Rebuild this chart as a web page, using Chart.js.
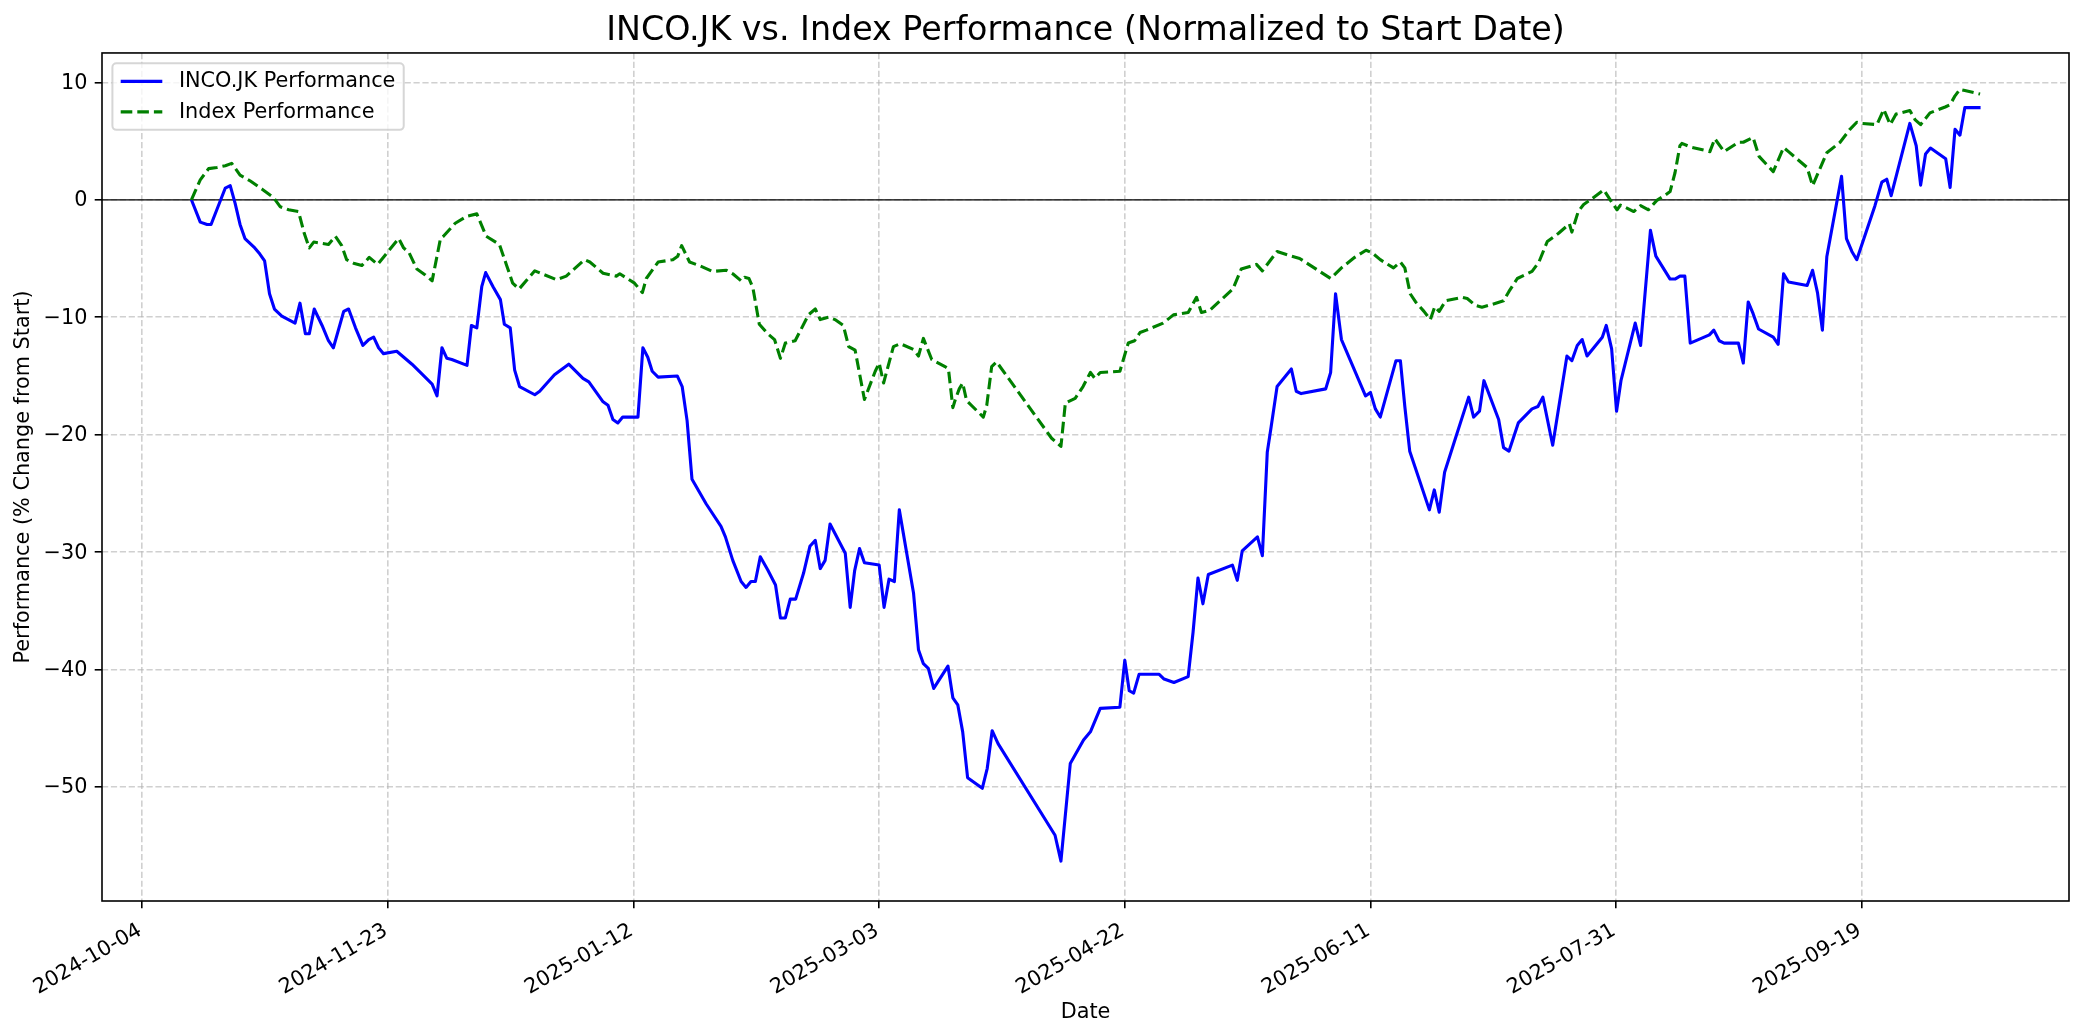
<!DOCTYPE html>
<html>
<head>
<meta charset="utf-8">
<title>INCO.JK vs. Index Performance</title>
<script src="https://cdn.jsdelivr.net/npm/chart.js@4.4.1/dist/chart.umd.min.js"></script>
<style>
  html, body { margin: 0; padding: 0; background: #fff; }
  canvas { display: block; }
</style>
</head>
<body>
<canvas id="perf-chart" width="2084" height="1035"></canvas>
<script>
// x values are days counted from 2024-10-04
const tickDays = [0, 50, 100, 150, 200, 250, 300, 350];
const tickLabels = ['2024-10-04', '2024-11-23', '2025-01-12', '2025-03-03', '2025-04-22', '2025-06-11', '2025-07-31', '2025-09-19'];
const yTickValues = [-50, -40, -30, -20, -10, 0, 10];
const yTickLabels = ['\u221250', '\u221240', '\u221230', '\u221220', '\u221210', '0', '10'];

const incoDays = [
  10, 11.8, 13.2, 14.0, 16.9, 17.9, 18.9, 19.9, 20.9, 22.9,
  23.9, 24.9, 25.9, 26.9, 28.4, 31.1, 32.1, 33.2, 34.0, 35.0,
  36.6, 37.9, 38.9, 41.0, 42.0, 43.4, 44.9, 46.1, 47.1, 48.1,
  49.1, 51.8, 54.9, 56.6, 59.0, 60.0, 61.0, 62.0, 63.0, 66.1,
  67.0, 68.1, 69.1, 69.9, 71.4, 72.9, 73.7, 74.9, 75.8, 76.8,
  79.9, 80.9, 83.9, 86.8, 89.7, 90.9, 93.8, 94.8, 95.8, 96.8,
  97.8, 100.9, 101.9, 102.9, 103.8, 105.0, 108.9, 109.9, 110.9, 111.9,
  114.8, 117.8, 118.7, 120.2, 121.9, 122.9, 123.9, 124.8, 125.8, 127.3,
  128.9, 129.9, 130.9, 131.9, 133.0, 134.6, 135.9, 137.0, 138.0, 139.0,
  140.0, 143.1, 144.1, 145.0, 146.0, 147.0, 150.0, 151.0, 152.0, 153.1,
  154.1, 157.0, 158.0, 159.0, 160.0, 161.1, 164.0, 165.0, 166.0, 167.0,
  168.0, 171.0, 172.0, 173.0, 174.2, 185.8, 187.0, 188.9, 191.6, 193.0,
  195.0, 199.0, 200.0, 200.9, 201.8, 202.9, 207.0, 208.0, 210.0, 212.9,
  213.9, 214.9, 215.9, 217.0, 221.9, 222.9, 223.9, 227.0, 228.0, 229.0,
  229.8, 231.0, 233.9, 234.9, 235.9, 240.9, 241.9, 242.9, 244.1, 249.0,
  250.0, 251.0, 252.0, 255.2, 256.1, 257.0, 258.0, 259.2, 262.0, 263.0,
  264.0, 265.1, 267.0, 270.0, 271.0, 272.2, 273.1, 276.1, 277.1, 278.2,
  280.1, 282.9, 284.1, 285.1, 287.1, 290.0, 291.0, 292.1, 293.1, 294.1,
  297.2, 298.0, 299.1, 300.1, 301.0, 303.9, 305.0, 307.0, 308.1, 311.0,
  312.0, 313.0, 314.0, 315.1, 319.0, 319.9, 321.0, 322.0, 324.9, 325.9,
  326.9, 327.9, 329.0, 332.0, 333.0, 334.1, 335.1, 338.9, 340.0, 341.0,
  342.0, 342.9, 345.9, 346.9, 348.0, 349.0, 352.7, 354.1, 355.1, 356.0,
  359.8, 361.1, 362.0, 363.0, 364.0, 367.1, 368.0, 369.0, 370.0, 371.0, 374.2,
];
const incoValues = [
  0, -1.9, -2.1, -2.1, 1.0, 1.2, -0.3, -2.1, -3.3, -4.1,
  -4.6, -5.2, -8.0, -9.3, -9.9, -10.5, -8.8, -11.4, -11.4, -9.3,
  -10.7, -12.0, -12.6, -9.5, -9.3, -10.9, -12.4, -11.9, -11.7, -12.6,
  -13.1, -12.9, -14.0, -14.7, -15.7, -16.7, -12.6, -13.5, -13.6, -14.1,
  -10.7, -10.9, -7.4, -6.2, -7.4, -8.5, -10.6, -10.9, -14.5, -15.9,
  -16.6, -16.3, -14.9, -14.0, -15.2, -15.5, -17.2, -17.5, -18.7, -19.0,
  -18.5, -18.5, -12.6, -13.4, -14.6, -15.1, -15.0, -15.9, -18.8, -23.8,
  -25.9, -27.8, -28.7, -30.7, -32.5, -33.0, -32.5, -32.5, -30.4, -31.5,
  -32.8, -35.6, -35.6, -34.0, -34.0, -31.8, -29.5, -29.0, -31.4, -30.7,
  -27.6, -30.1, -34.7, -31.6, -29.7, -30.9, -31.1, -34.7, -32.3, -32.5,
  -26.4, -33.5, -38.3, -39.5, -39.9, -41.6, -39.7, -42.4, -43.0, -45.3,
  -49.2, -50.1, -48.4, -45.2, -46.3, -54.1, -56.3, -48.0, -46.0, -45.3,
  -43.3, -43.2, -39.2, -41.8, -42.0, -40.4, -40.4, -40.8, -41.1, -40.6,
  -36.8, -32.2, -34.4, -31.9, -31.1, -32.4, -29.9, -28.7, -30.3, -21.5,
  -19.3, -15.9, -14.4, -16.3, -16.5, -16.1, -14.7, -8.0, -11.9, -16.7,
  -16.4, -17.8, -18.5, -13.7, -13.7, -17.6, -21.4, -22.9, -26.4, -24.7,
  -26.6, -23.2, -20.7, -16.8, -18.5, -18.0, -15.4, -18.7, -21.1, -21.4,
  -19.0, -17.8, -17.6, -16.8, -20.9, -13.3, -13.7, -12.4, -11.9, -13.3,
  -11.7, -10.7, -12.7, -18.0, -15.4, -10.5, -12.4, -2.6, -4.8, -6.75,
  -6.75, -6.5, -6.5, -12.2, -11.5, -11.1, -12.0, -12.2, -12.2, -13.9,
  -8.7, -9.7, -11.0, -11.7, -12.3, -6.3, -7.0, -7.3, -6.0, -7.9,
  -11.1, -4.85, 2.0, -3.3, -4.4, -5.1, -0.5, 1.5, 1.75, 0.35,
  6.5, 4.6, 1.25, 3.9, 4.4, 3.5, 1.05, 6.0, 5.5, 7.85, 7.85,
];

const indexDays = [
  10, 11.8, 13.5, 15.2, 16.9, 18.2, 19.9, 22.0, 24.4, 26.7,
  28.1, 29.8, 31.8, 33.0, 34.0, 34.9, 37.9, 39.3, 40.6, 41.6,
  43.0, 44.7, 46.2, 47.9, 52.2, 53.2, 54.3, 55.9, 57.6, 59.0,
  60.7, 61.3, 63.7, 66.1, 68.1, 70.0, 72.7, 74.1, 75.4, 76.7,
  79.9, 84.3, 86.3, 90.0, 91.1, 93.8, 96.5, 97.2, 100.2, 101.8,
  102.6, 105.0, 108.0, 109.0, 109.8, 111.4, 113.4, 116.1, 118.9, 120.2,
  121.9, 122.6, 123.5, 124.3, 125.6, 127.3, 128.7, 129.9, 130.9, 132.9,
  135.6, 137.0, 138.0, 139.7, 141.0, 142.7, 143.8, 145.1, 147.0, 149.2,
  150.0, 150.9, 152.9, 154.3, 157.0, 158.0, 159.0, 160.7, 163.4, 164.1,
  165.0, 165.5, 166.3, 167.0, 167.8, 171.2, 171.9, 172.9, 173.9, 185.1,
  187.0, 187.9, 189.9, 191.5, 193.0, 193.9, 195.0, 199.0, 200.7, 202.0,
  203.1, 204.4, 207.8, 209.9, 212.9, 214.6, 215.6, 217.3, 222.0, 223.7,
  226.8, 228.0, 231.0, 233.9, 235.6, 241.9, 244.1, 246.8, 249.1, 250.3,
  252.0, 254.7, 256.1, 257.0, 258.1, 259.2, 260.9, 262.2, 263.1, 264.0,
  265.3, 268.7, 269.7, 271.4, 272.7, 274.8, 277.1, 278.2, 279.9, 282.9,
  284.3, 286.0, 288.3, 290.5, 291.0, 292.3, 293.4, 294.8, 297.5, 299.2,
  300.2, 300.9, 303.6, 305.0, 306.6, 308.3, 310.0, 311.0, 312.0, 313.0,
  313.4, 315.1, 319.1, 320.1, 322.0, 324.9, 325.9, 327.9, 329.1, 332.0,
  334.1, 335.1, 338.9, 340.0, 342.9, 345.6, 347.6, 349.0, 350.0, 353.1,
  354.5, 355.8, 357.0, 359.8, 360.9, 362.0, 363.9, 367.0, 368.0, 369.0,
  370.0, 371.0, 374.1,
];
const indexValues = [
  0, 1.7, 2.65, 2.75, 2.9, 3.1, 2.1, 1.6, 0.9, 0.2,
  -0.6, -0.85, -1.0, -2.9, -4.1, -3.6, -3.8, -3.1, -3.9, -5.1,
  -5.4, -5.6, -4.9, -5.5, -3.3, -4.1, -4.5, -5.9, -6.4, -6.9,
  -3.3, -3.1, -2.0, -1.4, -1.2, -3.1, -3.8, -5.5, -7.1, -7.6,
  -6.05, -6.8, -6.5, -5.1, -5.3, -6.25, -6.5, -6.3, -7.1, -7.9,
  -6.7, -5.3, -5.1, -4.8, -3.9, -5.3, -5.6, -6.1, -6.0, -6.3,
  -6.9, -6.6, -6.7, -7.5, -10.6, -11.4, -11.9, -13.5, -12.2, -12.0,
  -9.8, -9.3, -10.2, -10.0, -10.2, -10.7, -12.5, -12.8, -17.0, -14.6,
  -13.9, -15.6, -12.5, -12.25, -12.75, -13.3, -11.8, -13.6, -14.2, -14.4,
  -17.7, -17.0, -16.1, -15.6, -17.1, -18.5, -17.5, -14.2, -13.8, -20.3,
  -21.0, -17.3, -16.9, -15.9, -14.7, -15.2, -14.7, -14.6, -12.2, -12.0,
  -11.3, -11.1, -10.5, -9.8, -9.6, -8.3, -9.6, -9.4, -7.6, -5.9,
  -5.5, -6.05, -4.4, -4.8, -5.0, -6.7, -5.8, -4.9, -4.3, -4.5,
  -5.1, -5.8, -5.3, -5.8, -8.0, -8.7, -9.5, -10.2, -9.1, -9.5,
  -8.6, -8.3, -8.4, -9.0, -9.15, -8.9, -8.6, -7.8, -6.7, -6.1,
  -5.3, -3.55, -2.85, -2.05, -2.75, -1.0, -0.4, 0, 0.85, -0.25,
  -0.85, -0.45, -1.0, -0.5, -0.85, -0.05, 0.4, 0.7, 2.3, 4.6,
  4.8, 4.5, 4.1, 5.2, 4.1, 4.9, 4.9, 5.3, 3.7, 2.4,
  4.45, 4.1, 2.75, 1.2, 4.0, 4.9, 6.0, 6.6, 6.5, 6.4,
  7.7, 6.4, 7.3, 7.6, 6.8, 6.4, 7.4, 7.9, 8.1, 8.85,
  9.4, 9.3, 9.0,
];

const FONT = "'DejaVu Sans', 'DejaVu Sans Book', sans-serif";
Chart.defaults.font.family = FONT;
Chart.defaults.color = '#000';

function toPoints(days, values) {
  return days.map((d, i) => ({ x: d, y: values[i] }));
}

// black horizontal reference line at 0
const zeroLine = {
  id: 'zeroLine',
  beforeDatasetsDraw(chart) {
    const { ctx, chartArea, scales } = chart;
    const y = scales.y.getPixelForValue(0);
    ctx.save();
    ctx.strokeStyle = '#000';
    ctx.lineWidth = 1.2;
    ctx.beginPath();
    ctx.moveTo(chartArea.left, y);
    ctx.lineTo(chartArea.right, y);
    ctx.stroke();
    ctx.restore();
  },
};

// four spines around the plot area
const axesFrame = {
  id: 'axesFrame',
  afterDatasetsDraw(chart) {
    const { ctx, chartArea } = chart;
    ctx.save();
    ctx.strokeStyle = '#000';
    ctx.lineWidth = 1.6;
    ctx.strokeRect(chartArea.left, chartArea.top, chartArea.width, chartArea.height);
    ctx.restore();
  },
};

function roundedRect(ctx, x, y, w, h, r) {
  ctx.beginPath();
  ctx.moveTo(x + r, y);
  ctx.lineTo(x + w - r, y);
  ctx.arcTo(x + w, y, x + w, y + r, r);
  ctx.lineTo(x + w, y + h - r);
  ctx.arcTo(x + w, y + h, x + w - r, y + h, r);
  ctx.lineTo(x + r, y + h);
  ctx.arcTo(x, y + h, x, y + h - r, r);
  ctx.lineTo(x, y + r);
  ctx.arcTo(x, y, x + r, y, r);
  ctx.closePath();
}

// legend box in the upper left corner of the plot
const boxedLegend = {
  id: 'boxedLegend',
  afterDraw(chart) {
    const { ctx, chartArea } = chart;
    const sets = chart.data.datasets;
    const fontSize = 20.8;
    const left = chartArea.left + 10.4;
    const top = chartArea.top + 10.4;
    const rowGap = 30.5;
    const handleX = left + 8.3;
    const handleLen = 41.6;
    const textX = handleX + handleLen + 16.6;

    ctx.save();
    ctx.font = `${fontSize}px ${FONT}`;
    const textW = Math.max(...sets.map((ds) => ctx.measureText(ds.label).width));
    const width = textX + textW + 8.3 - left;
    const height = 36 + rowGap * (sets.length - 1);

    roundedRect(ctx, left, top, width, height, 4);
    ctx.fillStyle = 'rgba(255,255,255,0.8)';
    ctx.fill();
    ctx.lineWidth = 2;
    ctx.strokeStyle = 'rgba(204,204,204,0.8)';
    ctx.stroke();

    sets.forEach((ds, i) => {
      const y = top + 18 + i * rowGap;
      ctx.beginPath();
      ctx.setLineDash(ds.borderDash || []);
      ctx.strokeStyle = ds.borderColor;
      ctx.lineWidth = ds.borderWidth;
      ctx.moveTo(handleX, y);
      ctx.lineTo(handleX + handleLen, y);
      ctx.stroke();
      ctx.setLineDash([]);
      ctx.fillStyle = '#000';
      ctx.textAlign = 'left';
      ctx.textBaseline = 'middle';
      ctx.fillText(ds.label, textX, y + 0.5);
    });
    ctx.restore();
  },
};

const gridLines = {
  color: 'rgba(176,176,176,0.6)',
  lineWidth: 1.6,
  tickColor: '#000',
  tickWidth: 1.6,
  tickLength: 7.3,
  tickBorderDash: [],
};

new Chart(document.getElementById('perf-chart'), {
  type: 'line',
  data: {
    datasets: [
      {
        label: 'INCO.JK Performance',
        data: toPoints(incoDays, incoValues),
        borderColor: '#0000ff',
        borderWidth: 3.1,
        borderJoinStyle: 'round',
        pointRadius: 0,
        tension: 0,
        order: 1,
      },
      {
        label: 'Index Performance',
        data: toPoints(indexDays, indexValues),
        borderColor: '#008000',
        borderWidth: 3.1,
        borderDash: [11.6, 5],
        borderJoinStyle: 'round',
        pointRadius: 0,
        tension: 0,
        order: 0,
      },
    ],
  },
  options: {
    responsive: false,
    animation: false,
    devicePixelRatio: 1,
    layout: { padding: { left: 0, right: 15, top: 0, bottom: 0 } },
    plugins: {
      legend: { display: false },
      tooltip: { enabled: false },
      title: {
        display: true,
        fullSize: false,
        text: 'INCO.JK vs. Index Performance (Normalized to Start Date)',
        color: '#000',
        font: { family: FONT, size: 33.3, weight: 'normal' },
        padding: { top: 11.5, bottom: 1.5 },
      },
    },
    scales: {
      x: {
        type: 'linear',
        min: -8.2,
        max: 392.2,
        afterBuildTicks: (scale) => {
          scale.ticks = tickDays.map((v) => ({ value: v }));
        },
        afterFit: (scale) => {
          scale.height = 134;
        },
        ticks: {
          autoSkip: false,
          maxRotation: 30,
          minRotation: 30,
          padding: 10,
          labelOffset: -2,
          font: { size: 20.8 },
          color: '#000',
          callback: (value, index) => tickLabels[index],
        },
        grid: gridLines,
        border: { display: false, dash: [6.2, 2.7] },
        title: {
          display: true,
          text: 'Date',
          color: '#000',
          font: { size: 20.8 },
          padding: { top: 0, bottom: 10 },
        },
      },
      y: {
        type: 'linear',
        min: -59.7,
        max: 12.5,
        afterBuildTicks: (scale) => {
          scale.ticks = yTickValues.map((v) => ({ value: v }));
        },
        afterFit: (scale) => {
          scale.width = 102;
        },
        ticks: {
          padding: 7.3,
          labelOffset: 1,
          font: { size: 20.8 },
          color: '#000',
          callback: (value, index) => yTickLabels[index],
        },
        grid: gridLines,
        border: { display: false, dash: [6.2, 2.7] },
        title: {
          display: true,
          text: 'Performance (% Change from Start)',
          color: '#000',
          font: { size: 20.8 },
          padding: { top: 11, bottom: 0 },
        },
      },
    },
  },
  plugins: [zeroLine, axesFrame, boxedLegend],
});
</script>
</body>
</html>
